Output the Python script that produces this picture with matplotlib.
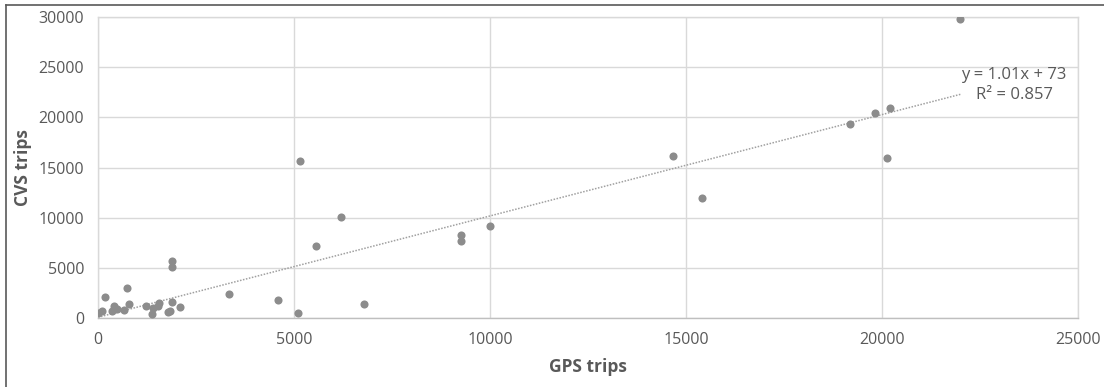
import matplotlib
matplotlib.use("Agg")
import matplotlib.pyplot as plt
from matplotlib.lines import Line2D
import numpy as np

gps_trips = [0, 90, 190, 750, 420, 350, 480, 670, 800, 1215, 1390, 1410, 1560,
             1540, 1775, 1840, 1900, 2090, 1890, 1890, 3340, 4590, 5090, 6790,
             5150, 5560, 6210, 9250, 9250, 9990, 14670, 15400, 19180, 19820,
             20200, 20130, 22000]
cvs_trips = [530, 650, 2050, 2950, 1200, 650, 850, 750, 1400, 1230, 370, 970, 1530,
             1150, 630, 700, 1630, 1130, 5650, 5050, 2400, 1750, 530, 1400,
             15600, 7200, 10100, 8300, 7650, 9200, 16150, 12000, 19300, 20450,
             20950, 15950, 29800]
trend_slope = 1.01
trend_intercept = 73
trend_r2 = 0.857
x_ticks = [0, 5000, 10000, 15000, 20000, 25000]
y_ticks = [0, 5000, 10000, 15000, 20000, 25000, 30000]

plt.rcParams['font.family'] = ['Open Sans', 'DejaVu Sans']

fig = plt.figure(figsize=(11.04, 3.87), dpi=100)
ax = fig.add_axes([98/1104, 1-318/387, (1078-98)/1104, (318-17)/387])

ax.scatter(gps_trips, cvs_trips, s=34, color='#8C8C8C', zorder=3, linewidths=0)

xt = np.array([min(gps_trips), max(gps_trips)])
ax.plot(xt, trend_slope*xt + trend_intercept, linestyle=(0, (1, 1)), color='#A0A0A0',
        linewidth=1.1, zorder=2)

ax.set_xlim(0, 25000)
ax.set_ylim(0, 30000)
ax.set_xticks(x_ticks)
ax.set_yticks(y_ticks)
ax.grid(True, color='#D9D9D9', linewidth=1)
ax.set_axisbelow(True)
for s in ax.spines.values():
    s.set_color('#D9D9D9')
    s.set_linewidth(1)
ax.spines['bottom'].set_color('#BFBFBF')
ax.tick_params(length=0, labelsize=11.5, colors='#595959', pad=10)
ax.set_xlabel('GPS trips', fontsize=12.5, fontweight='bold', color='#595959', labelpad=7)
ax.set_ylabel('CVS trips', fontsize=12.5, fontweight='bold', color='#595959', labelpad=5)

ax.text(23370, 23200, f"y = {trend_slope}x + {trend_intercept}\nR² = {trend_r2}",
        ha='center', va='center', fontsize=12, color='#595959', linespacing=1.3)

fig.add_artist(Line2D([6/1104, 1], [1-5/387, 1-5/387], color='#595959', linewidth=1.2))
fig.add_artist(Line2D([6/1104, 6/1104], [0, 1-5/387], color='#595959', linewidth=1.2))

fig.savefig('out.png', dpi=100)
